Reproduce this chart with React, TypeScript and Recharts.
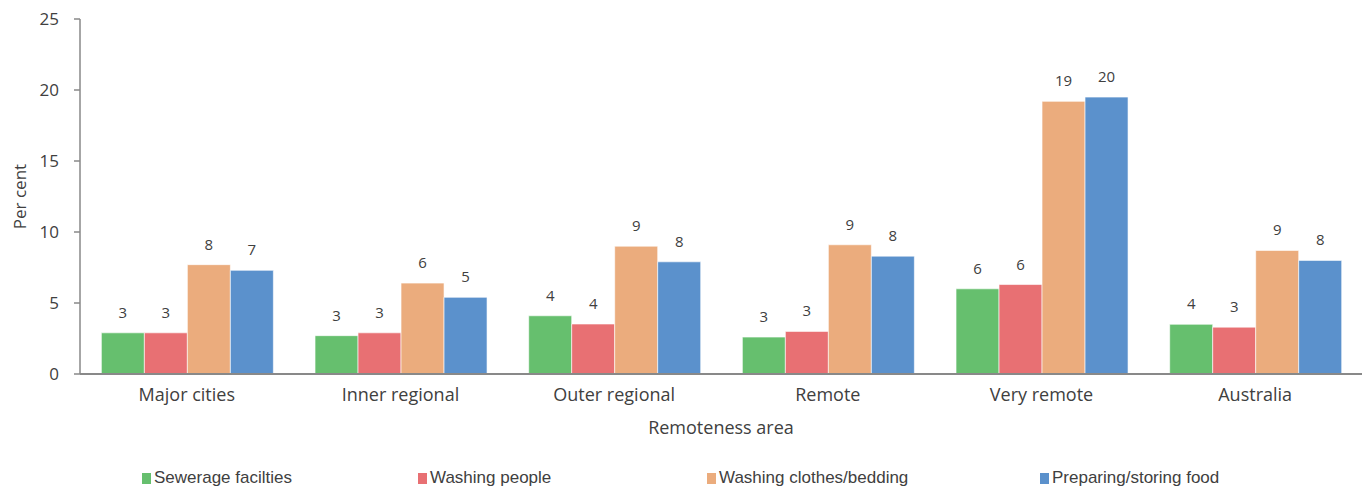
import React from 'react'
import { BarChart, Bar, XAxis, YAxis, Legend, LabelList } from 'recharts'

// Remoteness areas
const areas = ['Major cities', 'Inner regional', 'Outer regional', 'Remote', 'Very remote', 'Australia']

// Per cent of households with facility problems
const sewerage = [2.9, 2.7, 4.1, 2.6, 6.0, 3.5]
const washingPeople = [2.9, 2.9, 3.52, 3.0, 6.3, 3.3]
const washingClothes = [7.7, 6.4, 9.0, 9.1, 19.2, 8.7]
const preparingFood = [7.3, 5.4, 7.9, 8.3, 19.5, 8.0]

const yTicks = [0, 5, 10, 15, 20, 25]
const boundaryTicks = [0, 1, 2, 3, 4, 5, 6]

const series = [
  { key: 'sewerage', name: 'Sewerage facilties', color: '#66bf6e' },
  { key: 'washingPeople', name: 'Washing people', color: '#e87073' },
  { key: 'washingClothes', name: 'Washing clothes/bedding', color: '#ebac7d' },
  { key: 'preparingFood', name: 'Preparing/storing food', color: '#5b91cc' },
]

const data = areas.map((name, i) => ({
  name,
  sewerage: sewerage[i],
  washingPeople: washingPeople[i],
  washingClothes: washingClothes[i],
  preparingFood: preparingFood[i],
}))

const textColor = '#404040'
const axisColor = '#898989'
const font = '"Open Sans", "Noto Sans", sans-serif'

// legend slots roughly as laid out in the original
const legendWidths = [276, 289, 333, 240]

function LegendContent() {
  return (
    <div style={{ display: 'flex', alignItems: 'center', height: 20, paddingLeft: 142 }}>
      {series.map((s, i) => (
        <div key={s.key} style={{ display: 'flex', alignItems: 'center', width: legendWidths[i] }}>
          <span style={{ display: 'inline-block', width: 9, height: 11, background: s.color, marginRight: 3 }} />
          <span style={{ fontFamily: '"Liberation Sans Narrow", "Liberation Sans", sans-serif', fontSize: 17, color: textColor }}>
            {s.name}
          </span>
        </div>
      ))}
    </div>
  )
}

export default function App() {
  return (
    <div style={{ position: 'absolute', left: 0, top: 0, background: '#fff' }}>
      <BarChart
        width={1370}
        height={488}
        data={data}
        margin={{ top: 19, right: 8, left: 0, bottom: 0 }}
        barCategoryGap="10%"
        barGap={0}
      >
        {/* tick marks between the categories */}
        <XAxis
          type="number"
          domain={[0, 6]}
          ticks={boundaryTicks}
          allowDataOverflow
          height={1}
          tick={false}
          tickSize={6}
          stroke={axisColor}
          strokeWidth={2}
        />
        <XAxis
          xAxisId="cat"
          dataKey="name"
          height={93}
          axisLine={false}
          tickLine={false}
          tickSize={0}
          tickMargin={13}
          interval={0}
          tick={{ fill: textColor, fontSize: 18, fontFamily: font }}
          label={{
            value: 'Remoteness area',
            position: 'insideTop',
            offset: 46,
            fill: textColor,
            fontSize: 18,
            fontFamily: font,
          }}
        />
        <YAxis
          width={80}
          domain={[0, 25]}
          ticks={yTicks}
          interval={0}
          stroke={axisColor}
          strokeWidth={1.5}
          tickSize={6}
          tickMargin={15}
          tick={{ fill: textColor, fontSize: 17, fontFamily: font }}
          label={{
            value: 'Per cent',
            angle: -90,
            position: 'center',
            dx: -20,
            fill: textColor,
            fontSize: 17,
            fontFamily: font,
          }}
        />
        <Legend verticalAlign="bottom" content={<LegendContent />} />
        {series.map((s) => (
          <Bar
            key={s.key}
            xAxisId="cat"
            dataKey={s.key}
            name={s.name}
            fill={s.color}
            stroke="#ffffff"
            strokeWidth={0.6}
            isAnimationActive={false}
          >
            <LabelList
              dataKey={s.key}
              position="top"
              offset={15}
              formatter={(v: any) => Math.round(Number(v))}
              style={{ fill: textColor, fontSize: 15, fontFamily: font }}
            />
          </Bar>
        ))}
      </BarChart>
    </div>
  )
}
